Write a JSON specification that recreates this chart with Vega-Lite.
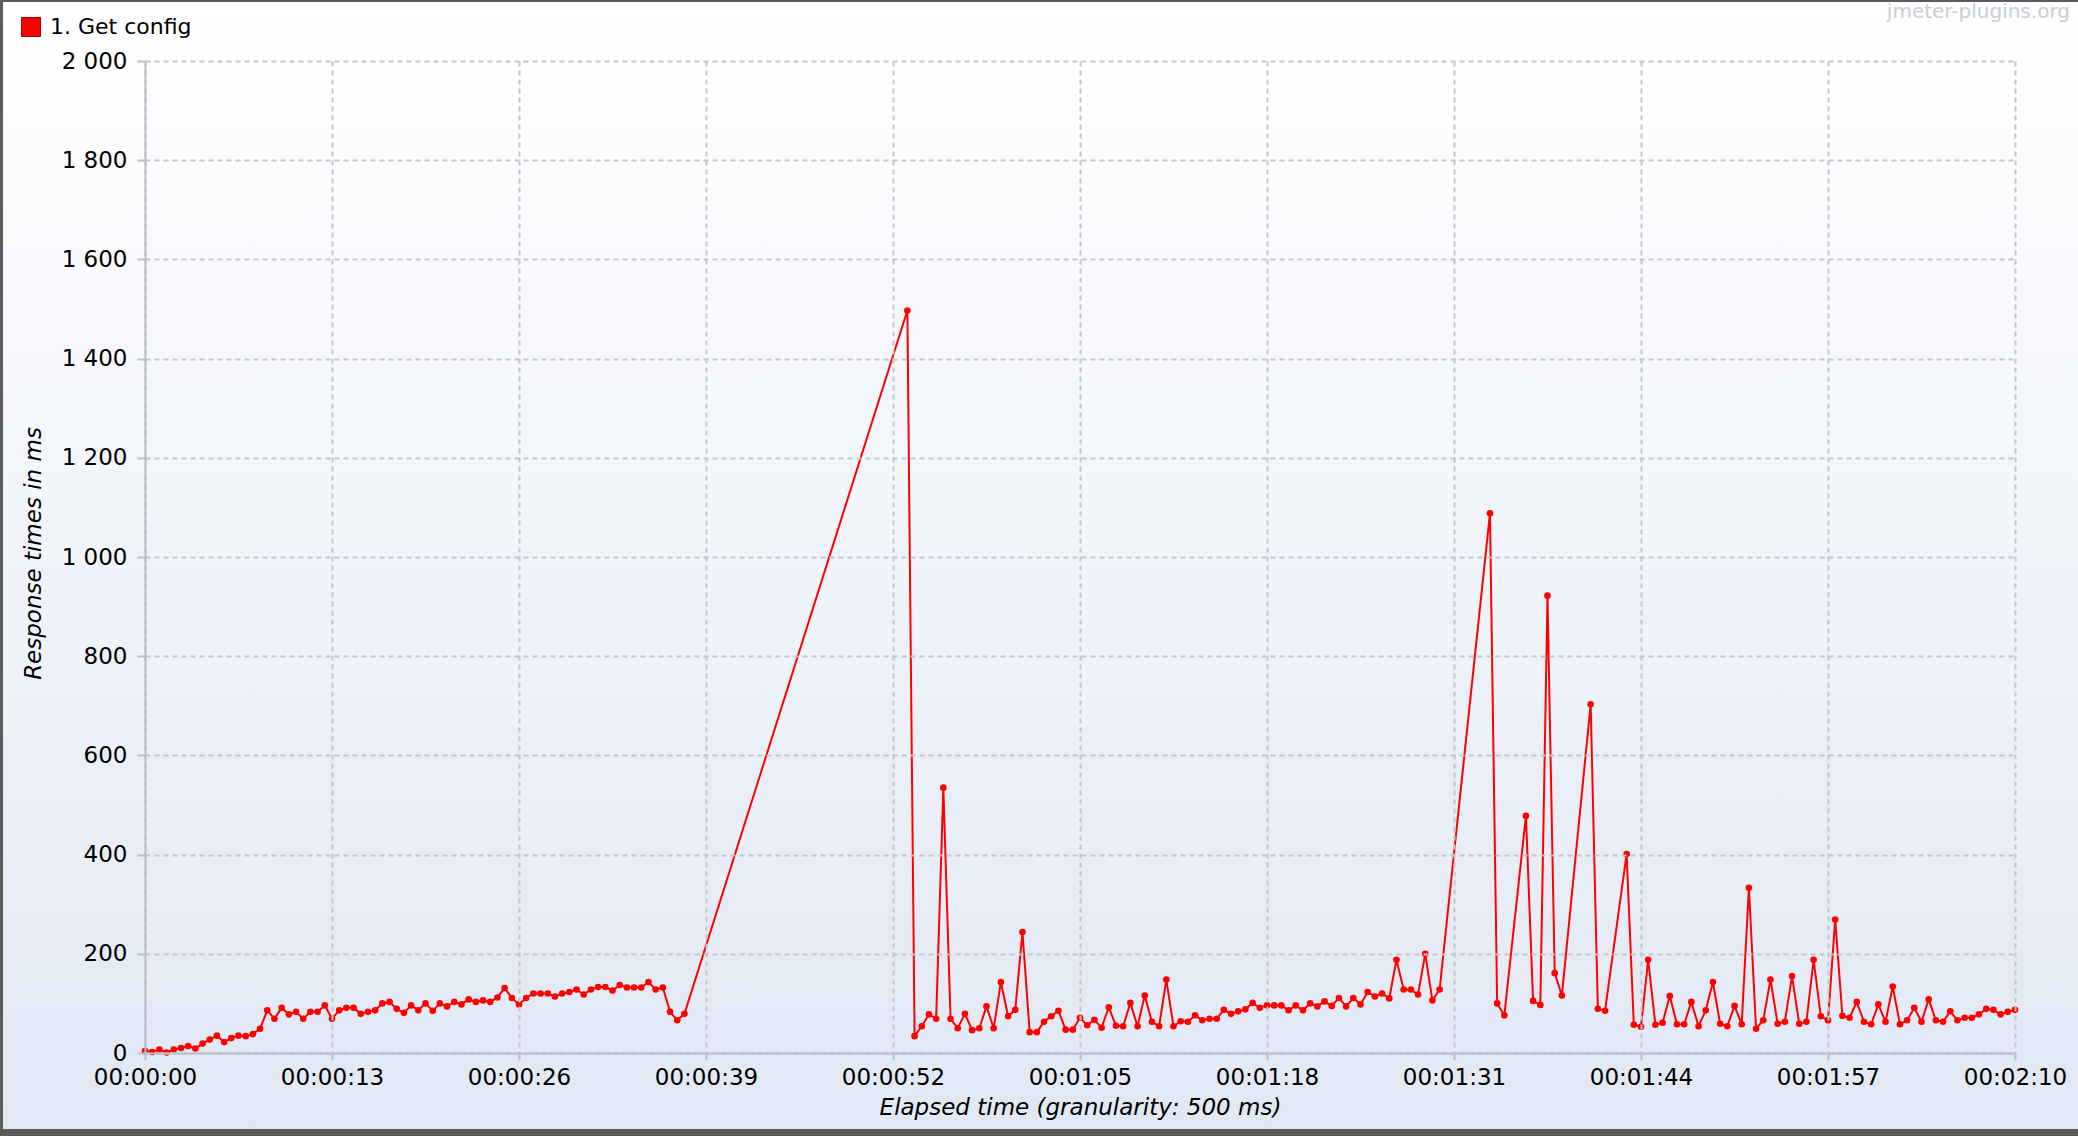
{
  "$schema": "https://vega.github.io/schema/vega-lite/v6.json",
  "width": 1870,
  "height": 992,
  "autosize": {"type": "none"},
  "padding": {"left": 145, "top": 61, "right": 63, "bottom": 83},
  "background": "#5c5c5c",
  "config": {
    "view": {"stroke": null},
    "font": "DejaVu Sans",
    "axis": {
      "labelFont": "DejaVu Sans",
      "labelFontSize": 23,
      "labelColor": "#000000",
      "titleFont": "DejaVu Sans",
      "titleFontSize": 23,
      "titleFontStyle": "italic",
      "titleFontWeight": "normal",
      "titleColor": "#000000",
      "domainColor": "#b9bec9",
      "domainWidth": 2,
      "tickColor": "#b9bec9",
      "tickWidth": 2,
      "grid": true,
      "gridColor": "#c3c6ce",
      "gridWidth": 2,
      "gridDash": [5, 4],
      "labelOverlap": false,
      "labelFlush": false
    }
  },
  "datasets": {
    "rt": [
      {"t": 0, "v": 4}, {"t": 0.5, "v": 2}, {"t": 1, "v": 7}, {"t": 1.5, "v": 1}, {"t": 2, "v": 7},
      {"t": 2.5, "v": 10}, {"t": 3, "v": 14}, {"t": 3.5, "v": 9}, {"t": 4, "v": 19}, {"t": 4.5, "v": 27},
      {"t": 5, "v": 35}, {"t": 5.5, "v": 22}, {"t": 6, "v": 30}, {"t": 6.5, "v": 35}, {"t": 7, "v": 34},
      {"t": 7.5, "v": 38}, {"t": 8, "v": 49}, {"t": 8.5, "v": 86}, {"t": 9, "v": 69}, {"t": 9.5, "v": 91},
      {"t": 10, "v": 78}, {"t": 10.5, "v": 83}, {"t": 11, "v": 69}, {"t": 11.5, "v": 83}, {"t": 12, "v": 83},
      {"t": 12.5, "v": 96}, {"t": 13, "v": 69}, {"t": 13.5, "v": 86}, {"t": 14, "v": 91}, {"t": 14.5, "v": 91},
      {"t": 15, "v": 79}, {"t": 15.5, "v": 83}, {"t": 16, "v": 86}, {"t": 16.5, "v": 100}, {"t": 17, "v": 103},
      {"t": 17.5, "v": 89}, {"t": 18, "v": 81}, {"t": 18.5, "v": 96}, {"t": 19, "v": 86}, {"t": 19.5, "v": 100},
      {"t": 20, "v": 85}, {"t": 20.5, "v": 100}, {"t": 21, "v": 94}, {"t": 21.5, "v": 103}, {"t": 22, "v": 98},
      {"t": 22.5, "v": 108}, {"t": 23, "v": 103}, {"t": 23.5, "v": 106}, {"t": 24, "v": 103}, {"t": 24.5, "v": 112},
      {"t": 25, "v": 131}, {"t": 25.5, "v": 111}, {"t": 26, "v": 98}, {"t": 26.5, "v": 111}, {"t": 27, "v": 120},
      {"t": 27.5, "v": 120}, {"t": 28, "v": 120}, {"t": 28.5, "v": 114}, {"t": 29, "v": 120}, {"t": 29.5, "v": 123},
      {"t": 30, "v": 128}, {"t": 30.5, "v": 118}, {"t": 31, "v": 128}, {"t": 31.5, "v": 133}, {"t": 32, "v": 133},
      {"t": 32.5, "v": 126}, {"t": 33, "v": 137}, {"t": 33.5, "v": 132}, {"t": 34, "v": 132}, {"t": 34.5, "v": 132},
      {"t": 35, "v": 143}, {"t": 35.5, "v": 128}, {"t": 36, "v": 132}, {"t": 36.5, "v": 83}, {"t": 37, "v": 66},
      {"t": 37.5, "v": 79},
      {"t": 53, "v": 1497}, {"t": 53.5, "v": 34}, {"t": 54, "v": 54}, {"t": 54.5, "v": 78}, {"t": 55, "v": 69},
      {"t": 55.5, "v": 535}, {"t": 56, "v": 69}, {"t": 56.5, "v": 50}, {"t": 57, "v": 79}, {"t": 57.5, "v": 46},
      {"t": 58, "v": 50}, {"t": 58.5, "v": 94}, {"t": 59, "v": 50}, {"t": 59.5, "v": 143}, {"t": 60, "v": 74},
      {"t": 60.5, "v": 87}, {"t": 61, "v": 244}, {"t": 61.5, "v": 42}, {"t": 62, "v": 42}, {"t": 62.5, "v": 63},
      {"t": 63, "v": 74}, {"t": 63.5, "v": 85}, {"t": 64, "v": 47}, {"t": 64.5, "v": 47}, {"t": 65, "v": 71},
      {"t": 65.5, "v": 56}, {"t": 66, "v": 67}, {"t": 66.5, "v": 51}, {"t": 67, "v": 92}, {"t": 67.5, "v": 55},
      {"t": 68, "v": 54}, {"t": 68.5, "v": 101}, {"t": 69, "v": 54}, {"t": 69.5, "v": 116}, {"t": 70, "v": 63},
      {"t": 70.5, "v": 54}, {"t": 71, "v": 148}, {"t": 71.5, "v": 54}, {"t": 72, "v": 64}, {"t": 72.5, "v": 63},
      {"t": 73, "v": 76}, {"t": 73.5, "v": 66}, {"t": 74, "v": 69}, {"t": 74.5, "v": 69}, {"t": 75, "v": 87},
      {"t": 75.5, "v": 79}, {"t": 76, "v": 84}, {"t": 76.5, "v": 88}, {"t": 77, "v": 101}, {"t": 77.5, "v": 91},
      {"t": 78, "v": 96}, {"t": 78.5, "v": 96}, {"t": 79, "v": 96}, {"t": 79.5, "v": 86}, {"t": 80, "v": 96},
      {"t": 80.5, "v": 86}, {"t": 81, "v": 100}, {"t": 81.5, "v": 94}, {"t": 82, "v": 104}, {"t": 82.5, "v": 95},
      {"t": 83, "v": 111}, {"t": 83.5, "v": 94}, {"t": 84, "v": 111}, {"t": 84.5, "v": 98}, {"t": 85, "v": 123},
      {"t": 85.5, "v": 114}, {"t": 86, "v": 120}, {"t": 86.5, "v": 110}, {"t": 87, "v": 188}, {"t": 87.5, "v": 128},
      {"t": 88, "v": 128}, {"t": 88.5, "v": 118}, {"t": 89, "v": 200}, {"t": 89.5, "v": 106}, {"t": 90, "v": 128},
      {"t": 93.5, "v": 1088}, {"t": 94, "v": 100}, {"t": 94.5, "v": 76},
      {"t": 96, "v": 478}, {"t": 96.5, "v": 105}, {"t": 97, "v": 97}, {"t": 97.5, "v": 922}, {"t": 98, "v": 161},
      {"t": 98.5, "v": 116},
      {"t": 100.5, "v": 703}, {"t": 101, "v": 89}, {"t": 101.5, "v": 85},
      {"t": 103, "v": 401}, {"t": 103.5, "v": 57}, {"t": 104, "v": 53}, {"t": 104.5, "v": 188}, {"t": 105, "v": 57},
      {"t": 105.5, "v": 61}, {"t": 106, "v": 115}, {"t": 106.5, "v": 58}, {"t": 107, "v": 58}, {"t": 107.5, "v": 103},
      {"t": 108, "v": 54}, {"t": 108.5, "v": 86}, {"t": 109, "v": 143}, {"t": 109.5, "v": 59}, {"t": 110, "v": 54},
      {"t": 110.5, "v": 95}, {"t": 111, "v": 58}, {"t": 111.5, "v": 333}, {"t": 112, "v": 49}, {"t": 112.5, "v": 66},
      {"t": 113, "v": 148}, {"t": 113.5, "v": 59}, {"t": 114, "v": 63}, {"t": 114.5, "v": 155}, {"t": 115, "v": 59},
      {"t": 115.5, "v": 63}, {"t": 116, "v": 188}, {"t": 116.5, "v": 74}, {"t": 117, "v": 66}, {"t": 117.5, "v": 269},
      {"t": 118, "v": 75}, {"t": 118.5, "v": 71}, {"t": 119, "v": 103}, {"t": 119.5, "v": 63}, {"t": 120, "v": 58},
      {"t": 120.5, "v": 98}, {"t": 121, "v": 63}, {"t": 121.5, "v": 134}, {"t": 122, "v": 58}, {"t": 122.5, "v": 66},
      {"t": 123, "v": 91}, {"t": 123.5, "v": 63}, {"t": 124, "v": 108}, {"t": 124.5, "v": 66}, {"t": 125, "v": 63},
      {"t": 125.5, "v": 84}, {"t": 126, "v": 66}, {"t": 126.5, "v": 71}, {"t": 127, "v": 71}, {"t": 127.5, "v": 78},
      {"t": 128, "v": 89}, {"t": 128.5, "v": 87}, {"t": 129, "v": 78}, {"t": 129.5, "v": 83}, {"t": 130, "v": 87}
    ]
  },
  "layer": [
    {
      "data": {"values": [{}]},
      "mark": {
        "type": "rect",
        "clip": false,
        "fill": {
          "gradient": "linear",
          "x1": 0, "y1": 0, "x2": 0, "y2": 1,
          "stops": [
            {"offset": 0, "color": "#ffffff"},
            {"offset": 1, "color": "#e1e8f4"}
          ]
        },
        "stroke": null
      },
      "encoding": {
        "x": {
          "datum": -9.87, "type": "quantitative",
          "scale": {"domain": [0, 130], "nice": false, "zero": false},
          "axis": {
            "zindex": 1,
            "values": [0, 13, 26, 39, 52, 65, 78, 91, 104, 117, 130],
            "labelExpr": "utcFormat(datum.value * 1000, '%H:%M:%S')",
            "title": "Elapsed time (granularity: 500 ms)",
            "tickSize": 7,
            "labelPadding": 17,
            "labelBaseline": "middle",
            "titleX": 935,
            "titleY": 54,
            "titleAlign": "center",
            "titleBaseline": "middle"
          }
        },
        "x2": {"datum": 134.5},
        "y": {
          "datum": 2119, "type": "quantitative",
          "scale": {"domain": [0, 2000], "nice": false},
          "axis": {
            "zindex": 1,
            "values": [0, 200, 400, 600, 800, 1000, 1200, 1400, 1600, 1800, 2000],
            "labelExpr": "replace(format(datum.value, ','), ',', ' ')",
            "title": "Response times in ms",
            "tickSize": 8,
            "labelPadding": 10,
            "labelBaseline": "middle",
            "titleX": -112,
            "titleY": 492,
            "titleAngle": 270,
            "titleAlign": "center",
            "titleBaseline": "middle"
          }
        },
        "y2": {"datum": -153}
      }
    },
    {
      "data": {"values": [{"label": "jmeter-plugins.org"}]},
      "mark": {
        "type": "text",
        "font": "DejaVu Sans",
        "fontSize": 20,
        "color": "#c9cdd6",
        "align": "right",
        "baseline": "alphabetic",
        "clip": false
      },
      "encoding": {
        "text": {"field": "label"},
        "x": {"datum": 133.82, "type": "quantitative"},
        "y": {"datum": 2087.5, "type": "quantitative"}
      }
    },
    {
      "data": {"name": "rt"},
      "mark": {"type": "line", "color": "#ff0000", "strokeWidth": 2},
      "encoding": {
        "x": {"field": "t", "type": "quantitative", "scale": {"domain": [0, 130], "nice": false, "zero": false}},
        "y": {"field": "v", "type": "quantitative", "scale": {"domain": [0, 2000], "nice": false}}
      }
    },
    {
      "data": {"name": "rt"},
      "mark": {"type": "point", "filled": true, "size": 44, "opacity": 1},
      "encoding": {
        "x": {"field": "t", "type": "quantitative"},
        "y": {"field": "v", "type": "quantitative"},
        "color": {
          "datum": "1. Get config",
          "scale": {"range": ["#ff0000"]},
          "legend": {
            "title": null,
            "orient": "none",
            "legendX": -125,
            "legendY": -45,
            "padding": 0,
            "symbolType": "square",
            "symbolSize": 361,
            "symbolFillColor": "#ff0000",
            "symbolStrokeColor": "#b00000",
            "symbolStrokeWidth": 1,
            "symbolOpacity": 1,
            "labelOffset": 8,
            "labelFont": "DejaVu Sans",
            "labelFontSize": 22,
            "labelColor": "#000000",
            "labelBaseline": "middle"
          }
        }
      }
    }
  ]
}
